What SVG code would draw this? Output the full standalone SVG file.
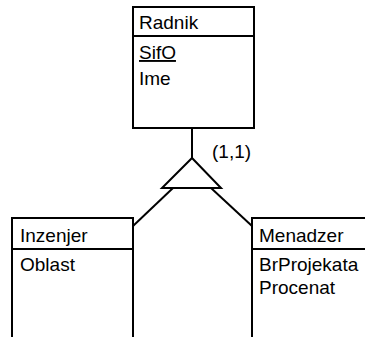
<svg xmlns="http://www.w3.org/2000/svg" width="365" height="337" viewBox="0 0 365 337">
<style>
.box{fill:#fff;stroke:#000;stroke-width:2}
.ln{fill:none;stroke:#000;stroke-width:2}
text{font-family:"Liberation Sans",Arial,sans-serif;font-size:19px;fill:#000}
</style>
<rect width="365" height="337" fill="#fff"/>
<g id="connectors">
<line class="ln" x1="192" y1="128" x2="192" y2="158"/>
<polygon class="ln" points="192,158 162,188 221,188"/>
<line class="ln" x1="173" y1="188" x2="133" y2="226"/>
<line class="ln" x1="211" y1="188" x2="252" y2="226"/>
<text x="212" y="158">(1,1)</text>
</g>
<g id="Radnik">
<rect class="box" x="133" y="7" width="121" height="121"/>
<line class="ln" x1="133" y1="36" x2="254" y2="36"/>
<text x="139" y="29">Radnik</text>
<text x="139" y="59" text-decoration="underline">SifO</text>
<text x="139" y="85">Ime</text>
</g>
<g id="Inzenjer">
<rect class="box" x="12" y="218" width="121" height="130"/>
<line class="ln" x1="12" y1="249" x2="133" y2="249"/>
<text x="20" y="242">Inzenjer</text>
<text x="20" y="271">Oblast</text>
</g>
<g id="Menadzer">
<rect class="box" x="252" y="218" width="130" height="130"/>
<line class="ln" x1="252" y1="249" x2="382" y2="249"/>
<text x="259" y="242">Menadzer</text>
<text x="259" y="271">BrProjekata</text>
<text x="259" y="294">Procenat</text>
</g>
</svg>
